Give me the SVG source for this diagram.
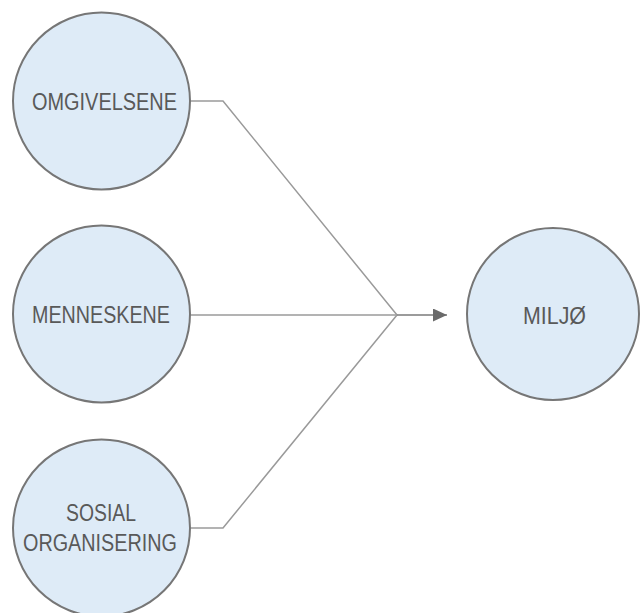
<svg xmlns="http://www.w3.org/2000/svg" width="640" height="613" viewBox="0 0 640 613">
<defs>
<style>
.node{fill:#deebf7;stroke:#767676;stroke-width:2}
.lbl{font-family:"Liberation Sans",Arial,sans-serif;font-size:23px;fill:#595959;text-anchor:middle}
.conn{fill:none;stroke:#9a9a9a;stroke-width:1.5}
</style>
<marker id="arr" viewBox="0 0 14 13" refX="14" refY="6.5" markerWidth="14" markerHeight="13" markerUnits="userSpaceOnUse" orient="auto">
<path d="M0,0 L14,6.5 L0,13 Z" fill="#6a6a6a"/>
</marker>
</defs>
<rect width="640" height="613" fill="#ffffff"/>
<g id="connectors">
<polyline class="conn" points="190,101 223,101 397,315"/>
<polyline class="conn" points="190,528 223,528 397,315"/>
<line class="conn" x1="190" y1="315" x2="397" y2="315"/>
<line x1="397" y1="315" x2="447" y2="315" stroke="#7a7a7a" stroke-width="1.5" marker-end="url(#arr)"/>
</g>
<g id="omgivelsene">
<circle class="node" cx="101.5" cy="101" r="88.5"/>
<text class="lbl" x="104.5" y="110" textLength="145" lengthAdjust="spacingAndGlyphs">OMGIVELSENE</text>
</g>
<g id="menneskene">
<circle class="node" cx="101.5" cy="314" r="88.5"/>
<text class="lbl" x="101" y="323" textLength="138" lengthAdjust="spacingAndGlyphs">MENNESKENE</text>
</g>
<g id="sosial-organisering">
<circle class="node" cx="101.5" cy="528" r="88.5"/>
<text class="lbl" x="101" y="521" textLength="70" lengthAdjust="spacingAndGlyphs">SOSIAL</text>
<text class="lbl" x="100" y="551" textLength="154" lengthAdjust="spacingAndGlyphs">ORGANISERING</text>
</g>
<g id="miljo">
<circle class="node" cx="553" cy="314" r="86"/>
<text class="lbl" x="554.5" y="324" textLength="63" lengthAdjust="spacingAndGlyphs">MILJØ</text>
</g>
</svg>
